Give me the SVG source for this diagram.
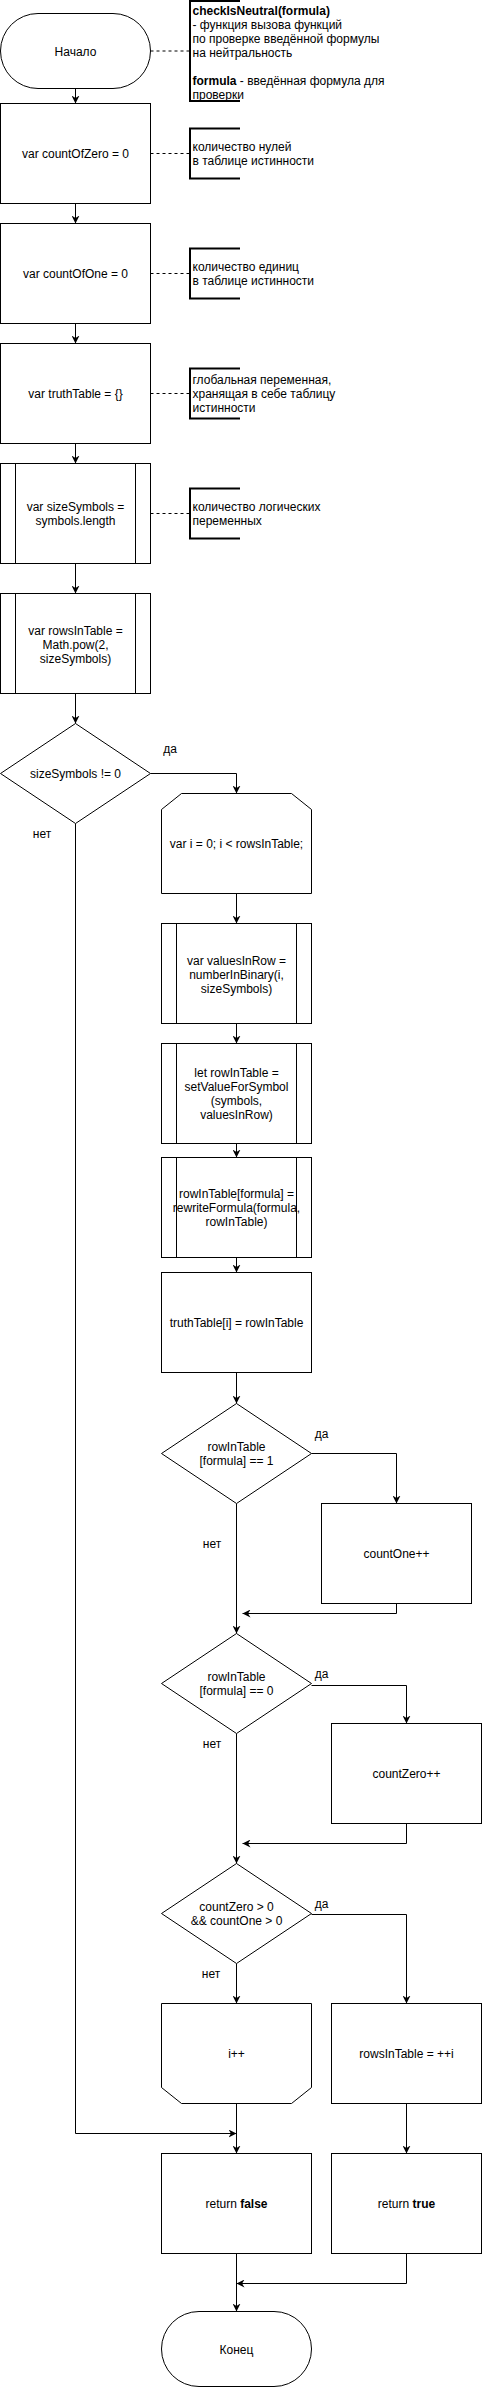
<svg xmlns="http://www.w3.org/2000/svg" width="482" height="2387" viewBox="0 0 482 2387">
<style>
.n{fill:#fff;stroke:#000;stroke-width:1}
.t{font-family:"Liberation Sans",Arial,sans-serif;font-size:12px;fill:#000;text-anchor:middle}
.l{text-anchor:start}
.e{fill:none;stroke:#000;stroke-width:1}
.d{fill:none;stroke:#000;stroke-width:1;stroke-dasharray:3 3}
.b{fill:none;stroke:#000;stroke-width:2}
.bold{font-weight:bold}
</style>
<defs>
<marker id="a" viewBox="0 0 10 10" refX="10" refY="5" markerWidth="8" markerHeight="8" markerUnits="userSpaceOnUse" orient="auto">
<path d="M0,0 L10,5 L0,10 L3,5 z" fill="#000"/>
</marker>
</defs>
<rect width="482" height="2387" fill="#fff"/>

<g id="connectors">
<path class="e" d="M75.5,88.5 V103.5" marker-end="url(#a)"/>
<path class="e" d="M75.5,203.5 V223.5" marker-end="url(#a)"/>
<path class="e" d="M75.5,323.5 V343.5" marker-end="url(#a)"/>
<path class="e" d="M75.5,443.5 V463.5" marker-end="url(#a)"/>
<path class="e" d="M75.5,563.5 V593.5" marker-end="url(#a)"/>
<path class="e" d="M75.5,693.5 V723.5" marker-end="url(#a)"/>
<path class="e" d="M150.5,773.5 H236.5 V793.5" marker-end="url(#a)"/>
<path class="e" d="M75.5,823.5 V2133.5 H236.5" marker-end="url(#a)"/>
<path class="e" d="M236.5,893.5 V923.5" marker-end="url(#a)"/>
<path class="e" d="M236.5,1023.5 V1043.5" marker-end="url(#a)"/>
<path class="e" d="M236.5,1143.5 V1157.5" marker-end="url(#a)"/>
<path class="e" d="M236.5,1257.5 V1272.5" marker-end="url(#a)"/>
<path class="e" d="M236.5,1372.5 V1403.5" marker-end="url(#a)"/>
<path class="e" d="M311.5,1453.5 H396.5 V1503.5" marker-end="url(#a)"/>
<path class="e" d="M236.5,1503.5 V1633.5" marker-end="url(#a)"/>
<path class="e" d="M396.5,1603.5 V1613.5 H242.5" marker-end="url(#a)"/>
<path class="e" d="M311.5,1685.5 H406.5 V1723.5" marker-end="url(#a)"/>
<path class="e" d="M236.5,1733.5 V1863.5" marker-end="url(#a)"/>
<path class="e" d="M406.5,1823.5 V1843.5 H242.5" marker-end="url(#a)"/>
<path class="e" d="M311.5,1914.5 H406.5 V2003.5" marker-end="url(#a)"/>
<path class="e" d="M236.5,1963.5 V2003.5" marker-end="url(#a)"/>
<path class="e" d="M236.5,2103.5 V2153.5" marker-end="url(#a)"/>
<path class="e" d="M406.5,2103.5 V2153.5" marker-end="url(#a)"/>
<path class="e" d="M236.5,2253.5 V2311.5" marker-end="url(#a)"/>
<path class="e" d="M406.5,2253.5 V2283.5 H236.5" marker-end="url(#a)"/>
<path class="d" d="M150.5,51 H190"/>
<path class="d" d="M150.5,153.5 H190"/>
<path class="d" d="M150.5,273.5 H190"/>
<path class="d" d="M150.5,393.5 H190"/>
<path class="d" d="M150.5,513.5 H190"/>
<text class="t" x="170" y="752.5">да</text>
<text class="t" x="42" y="837.5">нет</text>
<text class="t" x="321.7" y="1437.5">да</text>
<text class="t" x="212" y="1547.5">нет</text>
<text class="t" x="321.7" y="1677.5">да</text>
<text class="t" x="212" y="1747.5">нет</text>
<text class="t" x="321.7" y="1907.5">да</text>
<text class="t" x="211" y="1977.5">нет</text>
</g>

<g id="start">
<rect class="n" x="0.5" y="13.5" width="150" height="75" rx="37.5" ry="37.5"/>
<text class="t" x="75.5" y="55.5">Начало</text>
</g>

<g id="note1">
<path class="b" d="M240,1 H190 V101 H240"/>
<text class="t l" x="192.5" y="14.5"><tspan class="bold">checkIsNeutral(formula)</tspan></text>
<text class="t l" x="192.5" y="28.5">- функция вызова функций</text>
<text class="t l" x="192.5" y="42.5">по проверке введённой формулы</text>
<text class="t l" x="192.5" y="56.5">на нейтральность</text>
<text class="t l" x="192.5" y="84.5"><tspan class="bold">formula</tspan> - введённая формула для</text>
<text class="t l" x="192.5" y="98.5">проверки</text>
</g>

<g id="countOfZero">
<rect class="n" x="0.5" y="103.5" width="150" height="100"/>
<text class="t" x="75.5" y="158">var countOfZero = 0</text>
</g>
<g id="note2">
<path class="b" d="M240,128.5 H190 V178.5 H240"/>
<text class="t l" x="192.5" y="151">количество нулей</text>
<text class="t l" x="192.5" y="165">в таблице истинности</text>
</g>

<g id="countOfOne">
<rect class="n" x="0.5" y="223.5" width="150" height="100"/>
<text class="t" x="75.5" y="278">var countOfOne = 0</text>
</g>
<g id="note3">
<path class="b" d="M240,248.5 H190 V298.5 H240"/>
<text class="t l" x="192.5" y="271">количество единиц</text>
<text class="t l" x="192.5" y="285">в таблице истинности</text>
</g>

<g id="truthTable">
<rect class="n" x="0.5" y="343.5" width="150" height="100"/>
<text class="t" x="75.5" y="398">var truthTable = {}</text>
</g>
<g id="note4">
<path class="b" d="M240,368.5 H190 V418.5 H240"/>
<text class="t l" x="192.5" y="384">глобальная переменная,</text>
<text class="t l" x="192.5" y="398">хранящая в себе таблицу</text>
<text class="t l" x="192.5" y="412">истинности</text>
</g>

<g id="sizeSymbols">
<rect class="n" x="0.5" y="463.5" width="150" height="100"/>
<path class="e" d="M15.5,463.5 V563.5 M135.5,463.5 V563.5"/>
<text class="t" x="75.5" y="511">var sizeSymbols =</text>
<text class="t" x="75.5" y="525">symbols.length</text>
</g>
<g id="note5">
<path class="b" d="M240,488.5 H190 V538.5 H240"/>
<text class="t l" x="192.5" y="511">количество логических</text>
<text class="t l" x="192.5" y="525">переменных</text>
</g>

<g id="rowsInTable">
<rect class="n" x="0.5" y="593.5" width="150" height="100"/>
<path class="e" d="M15.5,593.5 V693.5 M135.5,593.5 V693.5"/>
<text class="t" x="75.5" y="634.5">var rowsInTable =</text>
<text class="t" x="75.5" y="648.5">Math.pow(2,</text>
<text class="t" x="75.5" y="662.5">sizeSymbols)</text>
</g>

<g id="cond1">
<polygon class="n" points="75.5,723.5 150.5,773.5 75.5,823.5 0.5,773.5"/>
<text class="t" x="75.5" y="778">sizeSymbols != 0</text>
</g>

<g id="loopStart">
<polygon class="n" points="161.5,809.5 181.5,793.5 291.5,793.5 311.5,809.5 311.5,893.5 161.5,893.5"/>
<text class="t" x="236.5" y="848">var i = 0; i &lt; rowsInTable;</text>
</g>

<g id="valuesInRow">
<rect class="n" x="161.5" y="923.5" width="150" height="100"/>
<path class="e" d="M176.5,923.5 V1023.5 M296.5,923.5 V1023.5"/>
<text class="t" x="236.5" y="964.5">var valuesInRow =</text>
<text class="t" x="236.5" y="978.5">numberInBinary(i,</text>
<text class="t" x="236.5" y="992.5">sizeSymbols)</text>
</g>

<g id="setValue">
<rect class="n" x="161.5" y="1043.5" width="150" height="100"/>
<path class="e" d="M176.5,1043.5 V1143.5 M296.5,1043.5 V1143.5"/>
<text class="t" x="236.5" y="1077">let rowInTable =</text>
<text class="t" x="236.5" y="1091">setValueForSymbol</text>
<text class="t" x="236.5" y="1105">(symbols,</text>
<text class="t" x="236.5" y="1119">valuesInRow)</text>
</g>

<g id="rewrite">
<rect class="n" x="161.5" y="1157.5" width="150" height="100"/>
<path class="e" d="M176.5,1157.5 V1257.5 M296.5,1157.5 V1257.5"/>
<text class="t" x="236.5" y="1198">rowInTable[formula] =</text>
<text class="t" x="236.5" y="1212">rewriteFormula(formula,</text>
<text class="t" x="236.5" y="1226">rowInTable)</text>
</g>

<g id="assignRow">
<rect class="n" x="161.5" y="1272.5" width="150" height="100"/>
<text class="t" x="236.5" y="1327">truthTable[i] = rowInTable</text>
</g>

<g id="cond2">
<polygon class="n" points="236.5,1403.5 311.5,1453.5 236.5,1503.5 161.5,1453.5"/>
<text class="t" x="236.5" y="1451">rowInTable</text>
<text class="t" x="236.5" y="1465">[formula] == 1</text>
</g>

<g id="countOne">
<rect class="n" x="321.5" y="1503.5" width="150" height="100"/>
<text class="t" x="396.5" y="1558">countOne++</text>
</g>

<g id="cond3">
<polygon class="n" points="236.5,1633.5 311.5,1683.5 236.5,1733.5 161.5,1683.5"/>
<text class="t" x="236.5" y="1681">rowInTable</text>
<text class="t" x="236.5" y="1695">[formula] == 0</text>
</g>

<g id="countZero">
<rect class="n" x="331.5" y="1723.5" width="150" height="100"/>
<text class="t" x="406.5" y="1778">countZero++</text>
</g>

<g id="cond4">
<polygon class="n" points="236.5,1863.5 311.5,1913.5 236.5,1963.5 161.5,1913.5"/>
<text class="t" x="236.5" y="1911">countZero &gt; 0</text>
<text class="t" x="236.5" y="1925">&amp;&amp; countOne &gt; 0</text>
</g>

<g id="loopEnd">
<polygon class="n" points="161.5,2003.5 311.5,2003.5 311.5,2087.5 291.5,2103.5 181.5,2103.5 161.5,2087.5"/>
<text class="t" x="236.5" y="2058">i++</text>
</g>

<g id="breakLoop">
<rect class="n" x="331.5" y="2003.5" width="150" height="100"/>
<text class="t" x="406.5" y="2058">rowsInTable = ++i</text>
</g>

<g id="returnFalse">
<rect class="n" x="161.5" y="2153.5" width="150" height="100"/>
<text class="t" x="236.5" y="2208">return <tspan class="bold">false</tspan></text>
</g>

<g id="returnTrue">
<rect class="n" x="331.5" y="2153.5" width="150" height="100"/>
<text class="t" x="406.5" y="2208">return <tspan class="bold">true</tspan></text>
</g>

<g id="end">
<rect class="n" x="161.5" y="2311.5" width="150" height="75" rx="37.5" ry="37.5"/>
<text class="t" x="236.5" y="2353.5">Конец</text>
</g>
</svg>
